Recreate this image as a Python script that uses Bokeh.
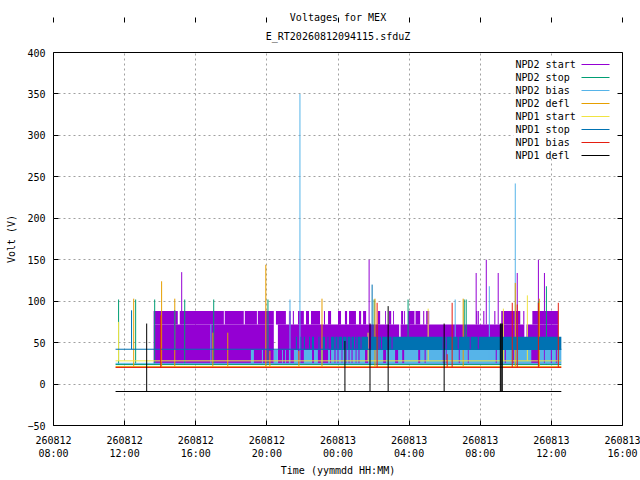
from bokeh.plotting import figure
from bokeh.models import (Range1d, FixedTicker, LinearAxis, Title, Label,
                          BoxAnnotation, Arrow)
from bokeh.embed import file_html
from bokeh.resources import INLINE

# ---------------- data (time in hours since 260812 00:00, values in V) -------------
title_lines = ["Voltages for MEX", "E_RT20260812094115.sfduZ"]
tick_hours = [8, 12, 16, 20, 24, 28, 32, 36, 40]
tick_labels = ["260812\n08:00", "260812\n12:00", "260812\n16:00", "260812\n20:00",
               "260813\n00:00", "260813\n04:00", "260813\n08:00", "260813\n12:00",
               "260813\n16:00"]
y_ticks = [-50, 0, 50, 100, 150, 200, 250, 300, 350, 400]

legend_names = ["NPD2 start", "NPD2 stop", "NPD2 bias", "NPD2 defl",
                "NPD1 start", "NPD1 stop", "NPD1 bias", "NPD1 defl"]
colors = ["#9400d3", "#009e73", "#56b4e9", "#e69f00",
          "#f0e442", "#0072b2", "#e51e10", "#000000"]

data_start, data_end = 11.49, 36.56

# NPD2 start: oscillates 25 <-> 72 / 88
npd2_start_base = 25
npd2_start_mid = 72
npd2_start_top = 88
npd2_start_low_t0 = [13.63, 20.62, 27.52, 34.60]
npd2_start_low_t1 = [20.39, 27.44, 34.48, 36.39]
npd2_start_high_t0 = [13.63, 15.10, 17.63, 18.76, 19.49, 20.51, 21.24, 21.46, 21.75, 22.20,
                      22.48, 23.21, 23.44, 24.00, 24.39, 24.62, 25.18, 25.41, 26.25, 26.65,
                      26.87, 27.10, 27.55, 27.72, 27.94, 28.36, 28.79, 28.96, 31.77, 31.86,
                      32.17, 32.79, 33.18, 34.42, 34.93]
npd2_start_high_t1 = [14.99, 17.58, 18.70, 19.44, 20.39, 21.07, 21.35, 21.52, 22.08, 22.37,
                      22.99, 23.27, 23.61, 24.17, 24.51, 25.01, 25.30, 25.58, 26.37, 26.70,
                      26.99, 27.15, 27.66, 27.77, 28.30, 28.62, 28.85, 29.13, 31.83, 31.92,
                      32.23, 32.85, 34.25, 34.48, 36.39]
npd2_start_spike_t = [15.21, 25.75, 31.77, 32.34, 33.01, 34.08, 35.27, 35.61]
npd2_start_spike_v = [135, 150, 134, 150, 134, 134, 150, 134]

# NPD2 stop
npd2_stop_base = 23.5
npd2_stop_spike_t = [11.66, 12.62, 13.69, 15.38, 17.01, 20.06, 26.03, 27.94, 31.10, 31.21,
                     35.27, 35.72]
npd2_stop_spike_v = [102, 102, 102, 102, 102, 102, 102, 102, 102, 102, 100, 118]

# NPD2 bias: oscillates 25 <-> 41
npd2_bias_base = 25
npd2_bias_high = 41
npd2_bias_t0 = [19.10, 19.72, 20.39, 20.85, 21.02, 21.24, 21.52, 22.08, 22.65, 23.04,
                23.44, 23.61, 23.86, 24.03, 24.25, 24.48, 24.65, 24.82, 25.04, 25.21,
                25.69, 26.70, 27.38, 27.72, 28.62, 28.93, 29.94, 30.11, 30.85, 31.35,
                32.93, 33.44, 33.89, 35.27, 35.63, 36.03, 36.31]
npd2_bias_t1 = [19.27, 19.78, 20.62, 20.90, 21.07, 21.30, 21.75, 22.54, 22.87, 23.15,
                23.55, 23.80, 23.97, 24.20, 24.42, 24.59, 24.76, 24.99, 25.15, 25.52,
                26.54, 27.21, 27.61, 28.51, 28.87, 29.89, 30.06, 30.79, 31.30, 32.87,
                33.38, 33.83, 34.87, 35.58, 35.97, 36.25, 36.56]
npd2_bias_spike_t = [16.85, 21.30, 21.86, 30.59, 32.51, 33.97]
npd2_bias_spike_v = [72, 102, 350, 102, 118, 242]

# NPD2 defl
npd2_defl_base = 21
npd2_defl_spike_t = [12.51, 14.08, 14.82, 16.96, 17.80, 19.94, 20.17, 21.80, 23.10, 26.08,
                     31.04, 33.97, 35.32]
npd2_defl_spike_v = [103, 124, 103, 62, 62, 144, 40, 40, 103, 103, 103, 122, 103]

# NPD1 start
npd1_start_base = 28
npd1_start_spike_t = [11.66, 25.69, 29.07, 33.30, 34.65]
npd1_start_spike_v = [75, 62, 91, 91, 107]

# NPD1 stop: oscillates 42 <-> 57
npd1_stop_base = 42
npd1_stop_high = 57
npd1_stop_t0 = [21.63, 21.89, 22.08, 22.37, 22.54, 22.90, 23.15, 23.41, 23.61, 23.86,
                24.03, 24.28, 24.54, 24.76, 24.96, 25.10, 25.32, 25.86, 26.34, 26.48,
                26.85, 27.07, 29.94, 30.11, 30.79, 31.46, 31.92]
npd1_stop_t1 = [21.69, 21.94, 22.14, 22.42, 22.65, 22.96, 23.27, 23.46, 23.80, 23.97,
                24.23, 24.48, 24.70, 24.90, 25.04, 25.27, 25.69, 26.28, 26.42, 26.79,
                27.01, 29.89, 30.06, 30.73, 31.41, 31.86, 36.56]
npd1_stop_spike_t = [12.39, 14.82, 25.92]
npd1_stop_spike_v = [89, 89, 120]

# NPD1 bias
npd1_bias_base = 20
npd1_bias_spike_t = [14.03, 26.20, 30.14, 30.42, 33.80, 34.08, 35.27, 36.39]
npd1_bias_spike_v = [83, 98, 36, 98, 98, 96, 98, 98]

# NPD1 defl
npd1_defl_base = -9
npd1_defl_spike_t = [13.24, 24.39, 25.80, 26.82, 29.97, 33.13, 33.18, 33.24]
npd1_defl_spike_v = [73, 52, 73, 94, 73, 73, 73, 73]

# ---------------- figure ----------------
FONT = "DejaVu Sans Mono"
FS = "10px"

p = figure(width=640, height=480, output_backend="svg", toolbar_location=None,
           x_range=Range1d(tick_hours[0], tick_hours[-1]),
           y_range=Range1d(y_ticks[0], y_ticks[-1]),
           min_border_left=53, min_border_right=18, min_border_top=52,
           min_border_bottom=55)
p.outline_line_color = "black"
p.outline_line_width = 1
p.background_fill_color = "white"
p.border_fill_color = "white"

p.title.text = title_lines[0]
p.title.align = "center"
p.title.text_font = FONT
p.title.text_font_size = FS
p.title.text_font_style = "normal"
p.title.text_color = "black"
p.title.standoff = -11
sub = Title(text=title_lines[1], align="center", text_font=FONT,
            text_font_size=FS, text_font_style="normal", text_color="black",
            standoff=22)
p.add_layout(sub, "above")

xt = FixedTicker(ticks=tick_hours)
yt = FixedTicker(ticks=y_ticks)
p.xaxis.ticker = xt
p.yaxis.ticker = yt
p.xaxis.major_label_overrides = dict(zip(tick_hours, tick_labels))
p.xaxis.axis_label = "Time (yymmdd HH:MM)"
p.yaxis.axis_label = "Volt (V)"
for ax in (p.xaxis[0], p.yaxis[0]):
    ax.axis_line_color = None
    ax.major_tick_in = 5
    ax.major_tick_out = 0
    ax.minor_tick_line_color = None
    ax.major_label_text_font = FONT
    ax.major_label_text_font_size = FS
    ax.major_label_text_color = "black"
    ax.axis_label_text_font = FONT
    ax.axis_label_text_font_size = FS
    ax.axis_label_text_font_style = "normal"
    ax.axis_label_text_color = "black"
p.xaxis.major_label_standoff = 9
p.xaxis.axis_label_standoff = 3
p.yaxis.major_label_standoff = 8
p.yaxis.axis_label_standoff = 7

for loc, tk, ticks in (("right", yt, y_ticks), ("above", xt, tick_hours)):
    ax = LinearAxis(ticker=tk, axis_line_color=None, major_tick_in=5, major_tick_out=0,
                    minor_tick_line_color=None, major_label_standoff=0,
                    major_label_overrides={t: "" for t in ticks})
    p.add_layout(ax, loc)

p.xgrid.ticker = xt
p.ygrid.ticker = yt
for g in (p.xgrid[0], p.ygrid[0]):
    g.grid_line_color = "#a0a0a0"
    g.grid_line_dash = "2 3"
    g.grid_line_width = 1


def baseline(base, color, t0=data_start, t1=data_end):
    p.segment(x0=[t0], y0=[base], x1=[t1], y1=[base], line_color=color, line_width=1)


def spikes(ts, vs, base, color):
    p.segment(x0=ts, y0=[base] * len(ts), x1=ts, y1=vs, line_color=color, line_width=1)


def band(t0, t1, lo, hi, color):
    p.quad(left=t0, right=t1, bottom=[lo] * len(t0), top=[hi] * len(t0),
           fill_color=color, line_color=None)


# NPD2 start
c = colors[0]
baseline(npd2_start_base, c, npd2_start_low_t0[0], npd2_start_low_t1[-1])
band(npd2_start_low_t0, npd2_start_low_t1, npd2_start_base, npd2_start_mid, c)
band(npd2_start_high_t0, npd2_start_high_t1, npd2_start_mid, npd2_start_top, c)
spikes(npd2_start_spike_t, npd2_start_spike_v, npd2_start_mid, c)
# NPD2 stop
c = colors[1]
baseline(npd2_stop_base, c)
spikes(npd2_stop_spike_t, npd2_stop_spike_v, npd2_stop_base, c)
# NPD2 bias
c = colors[2]
baseline(npd2_bias_base, c)
band(npd2_bias_t0, npd2_bias_t1, npd2_bias_base, npd2_bias_high, c)
spikes(npd2_bias_spike_t, npd2_bias_spike_v, npd2_bias_base, c)
# NPD2 defl
c = colors[3]
baseline(npd2_defl_base, c)
spikes(npd2_defl_spike_t, npd2_defl_spike_v, npd2_defl_base, c)
# NPD1 start
c = colors[4]
baseline(npd1_start_base, c)
spikes(npd1_start_spike_t, npd1_start_spike_v, npd1_start_base, c)
# NPD1 stop
c = colors[5]
baseline(npd1_stop_base, c)
band(npd1_stop_t0, npd1_stop_t1, npd1_stop_base - 1, npd1_stop_high, c)
spikes(npd1_stop_spike_t, npd1_stop_spike_v, npd1_stop_base, c)
# NPD1 bias
c = colors[6]
baseline(npd1_bias_base, c)
spikes(npd1_bias_spike_t, npd1_bias_spike_v, npd1_bias_base, c)
# NPD1 defl
c = colors[7]
baseline(npd1_defl_base, c)
spikes(npd1_defl_spike_t, npd1_defl_spike_v, npd1_defl_base, c)

# ---------------- key (text left-justified, line sample right), opaque box ----------
box = BoxAnnotation(left=460, right=563, top=368, bottom=267,
                    left_units="screen", right_units="screen",
                    top_units="screen", bottom_units="screen",
                    fill_color="white", fill_alpha=1.0, line_color=None)
p.add_layout(box)
for i, (name, col) in enumerate(zip(legend_names, colors)):
    yy = 361 - 13 * i
    p.add_layout(Arrow(end=None, x_start=528, y_start=yy, x_end=556, y_end=yy,
                       start_units="screen", end_units="screen",
                       line_color=col, line_width=1))
    p.add_layout(Label(x=462, y=yy, x_units="screen", y_units="screen",
                       text=name, text_align="left", text_baseline="middle",
                       text_font=FONT, text_font_size=FS, text_color="black"))

open("out.html", "w").write(file_html(p, INLINE))
